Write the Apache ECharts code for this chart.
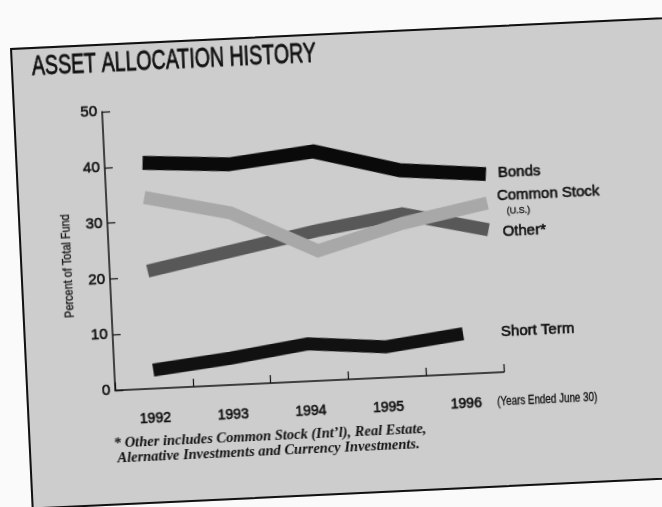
<!DOCTYPE html>
<html>
<head>
<meta charset="utf-8">
<title>Asset Allocation History</title>
<script src="https://cdn.jsdelivr.net/npm/echarts@6/dist/echarts.min.js"></script>
<style>
  html, body { margin: 0; padding: 0; background: #fafafa; }
  #page { position: relative; width: 662px; height: 507px; overflow: hidden; background: #fafafa; }
  #card {
    position: absolute; left: 10px; top: 48px; width: 700px; height: 462px;
    background: #cdcdcd; border: 2px solid #111; box-sizing: border-box;
    transform-origin: 0 0; transform: rotate(-2.7deg);
  }
  #chart { width: 696px; height: 458px; }
</style>
</head>
<body>
<div id="page"><div id="card"><div id="chart"></div></div></div>
<script>
// Fiscal years (ended June 30) and allocation shares, percent of total fund
const years = ['1992', '1993', '1994', '1995', '1996'];
const yearValues = [1992, 1993, 1994, 1995, 1996];
const bonds = [40.5, 39.5, 41.1, 37.0, 35.6];
const commonStock = [34.3, 30.8, 23.3, 27.5, 30.4];
const other = [21.1, 24.0, 26.9, 29.2, 25.6];
const shortTerm = [3.3, 4.8, 6.7, 5.5, 7.2];
const yTicks = [0, 10, 20, 30, 40, 50];

const SANS = "'Liberation Sans', Arial, sans-serif";
const SERIF = "'Liberation Serif', 'DejaVu Serif', serif";
const INK = '#111';
// a thin outline in the text colour gives the heavier, printed look
const heavy = { textBorderColor: INK, textBorderWidth: 0.6 };

const pairs = vals => yearValues.map((y, i) => [y, vals[i]]);

function ribbon(name, data, color, width, xIdx, label, z) {
  return {
    name, type: 'line', data, xAxisIndex: xIdx, z,
    showSymbol: false, symbol: 'none', clip: false, silent: true,
    lineStyle: { color, width, cap: 'butt', join: 'miter' },
    endLabel: Object.assign({
      show: true, color: INK, fontFamily: SANS, fontSize: 15,
      formatter: name
    }, heavy, label)
  };
}

const chart = echarts.init(document.getElementById('chart'), null, { renderer: 'canvas' });
chart.setOption({
  animation: false,
  backgroundColor: 'transparent',
  grid: { left: 87, top: 66, width: 389, height: 279 },
  xAxis: [
    {
      type: 'category', data: years, boundaryGap: true,
      axisLine: { lineStyle: { color: INK, width: 1.5 } },
      axisTick: { show: true, inside: true, length: 8, lineStyle: { color: INK, width: 1.2 } },
      axisLabel: Object.assign({ color: INK, fontFamily: SANS, fontSize: 14, margin: 23 }, heavy),
      splitLine: { show: false }
    },
    {
      type: 'value', show: false, min: 1991.556, max: 1996.1,
      splitLine: { show: false }
    }
  ],
  yAxis: {
    type: 'value', min: yTicks[0], max: yTicks[yTicks.length - 1], interval: 10,
    axisLine: { show: true, lineStyle: { color: INK, width: 1.5 } },
    axisTick: { show: true, inside: true, length: 8, lineStyle: { color: INK, width: 1.2 } },
    axisLabel: Object.assign({ color: INK, fontFamily: SANS, fontSize: 15, margin: 5 }, heavy),
    splitLine: { show: false }
  },
  series: [
    ribbon('Short Term', shortTerm, '#111', 13, 0, { distance: 38 }, 2),
    ribbon('Bonds', pairs(bonds), '#0a0a0a', 14, 1, { distance: 12 }, 2),
    ribbon('Other*', pairs(other), '#585858', 13, 1, { distance: 14, offset: [0, 3] }, 3),
    ribbon('Common Stock', pairs(commonStock), '#a8a8a8', 13, 1, {
      distance: 10,
      formatter: '{a|Common Stock}\n{b|(U.S.)}',
      rich: {
        a: Object.assign({ fontFamily: SANS, fontSize: 15, lineHeight: 19, color: INK }, heavy),
        b: { fontFamily: SANS, fontSize: 9, lineHeight: 13, color: INK, padding: [0, 0, 0, 9], textBorderColor: INK, textBorderWidth: 0.3 }
      }
    }, 4)
  ],
  graphic: [
    {
      type: 'text', x: 19, y: 18, scaleX: 0.70,
      style: Object.assign({ text: 'ASSET ALLOCATION HISTORY', fill: INK, font: "28px " + SANS, align: 'left', verticalAlign: 'middle' }, { stroke: INK, lineWidth: 0.8 })
    },
    {
      type: 'text', x: 45.6, y: 218.5, rotation: Math.PI / 2, scaleX: 0.84,
      style: { text: 'Percent of Total Fund', fill: INK, font: "13px " + SANS, align: 'center', verticalAlign: 'middle', stroke: INK, lineWidth: 0.3 }
    },
    {
      type: 'text', x: 468, y: 374.9, scaleX: 0.82,
      style: { text: '(Years Ended June 30)', fill: INK, font: "12px " + SANS, align: 'left', verticalAlign: 'middle', stroke: INK, lineWidth: 0.3 }
    },
    {
      type: 'text', x: 83, y: 398,
      style: { text: "* Other includes Common Stock (Int\u2019l), Real Estate,", fill: INK, font: "italic bold 14.5px " + SERIF, align: 'left', verticalAlign: 'middle' }
    },
    {
      type: 'text', x: 86, y: 413,
      style: { text: 'Alernative Investments and Currency Investments.', fill: INK, font: "italic bold 14.5px " + SERIF, align: 'left', verticalAlign: 'middle' }
    }
  ]
});
</script>
</body>
</html>
